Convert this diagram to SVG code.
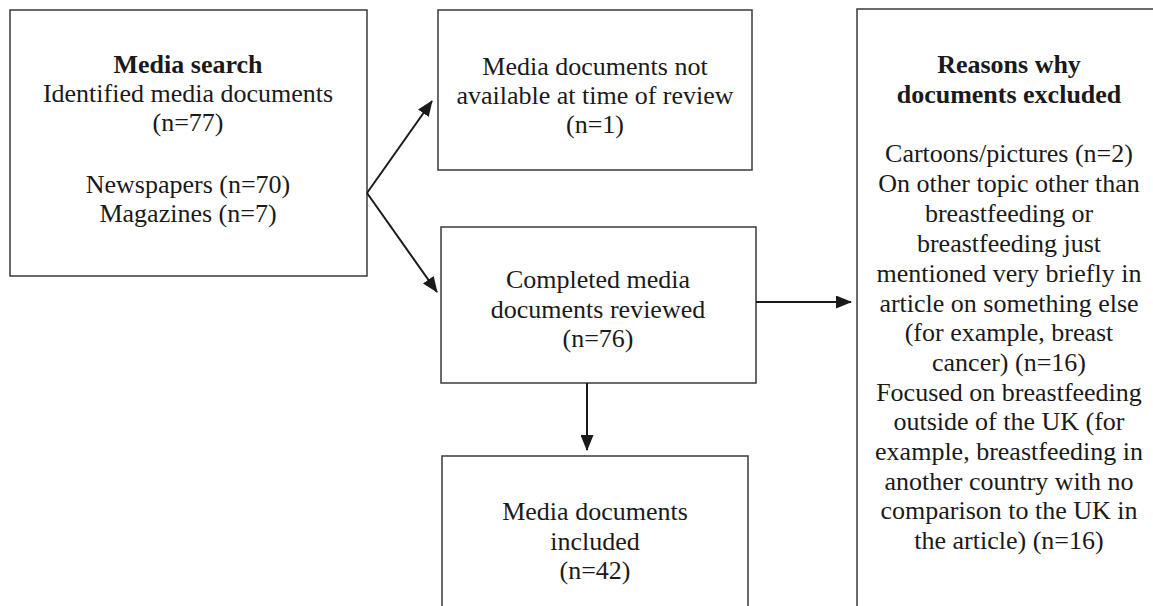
<svg xmlns="http://www.w3.org/2000/svg" width="1153" height="606" viewBox="0 0 1153 606">
<style>
.box{fill:#fff;stroke:#3a3a3a;stroke-width:1.5}
text{font-family:'Liberation Serif','Times New Roman',serif;font-size:26px;fill:#1a1a1a;text-anchor:middle}
.b{font-weight:bold}
.c{fill:none;stroke:#1a1a1a;stroke-width:2}
</style>
<defs>
<marker id="ah" markerWidth="16" markerHeight="13" refX="15" refY="6.5" orient="auto" markerUnits="userSpaceOnUse" viewBox="0 0 16 13">
<path d="M0,0 L16,6.5 L0,13 Z" fill="#1a1a1a"/>
</marker>
</defs>
<rect width="1153" height="606" fill="#fff"/>
<g id="search">
<rect class="box" x="10" y="10" width="357" height="266"/>
<text x="188" y="73" class="b">Media search</text>
<text x="188" y="102">Identified media documents</text>
<text x="188" y="131">(n=77)</text>
<text x="188" y="193">Newspapers (n=70)</text>
<text x="188" y="222">Magazines (n=7)</text>
</g>
<g id="notavailable">
<rect class="box" x="438" y="10" width="314" height="160"/>
<text x="595" y="75">Media documents not</text>
<text x="595" y="104">available at time of review</text>
<text x="595" y="133">(n=1)</text>
</g>
<g id="reviewed">
<rect class="box" x="441" y="227" width="315" height="156"/>
<text x="598" y="288">Completed media</text>
<text x="598" y="318">documents reviewed</text>
<text x="598" y="347">(n=76)</text>
</g>
<g id="included">
<rect class="box" x="442" y="456" width="306" height="160"/>
<text x="595" y="520">Media documents</text>
<text x="595" y="550">included</text>
<text x="595" y="579">(n=42)</text>
</g>
<g id="reasons">
<rect class="box" x="857" y="9" width="306" height="610"/>
<text x="1009" y="73" class="b">Reasons why</text>
<text x="1009" y="103" class="b">documents excluded</text>
<text x="1009" y="162">Cartoons/pictures (n=2)</text>
<text x="1009" y="192">On other topic other than</text>
<text x="1009" y="222">breastfeeding or</text>
<text x="1009" y="252">breastfeeding just</text>
<text x="1009" y="282">mentioned very briefly in</text>
<text x="1009" y="312">article on something else</text>
<text x="1009" y="341">(for example, breast</text>
<text x="1009" y="371">cancer) (n=16)</text>
<text x="1009" y="401">Focused on breastfeeding</text>
<text x="1009" y="430">outside of the UK (for</text>
<text x="1009" y="460">example, breastfeeding in</text>
<text x="1009" y="490">another country with no</text>
<text x="1009" y="519">comparison to the UK in</text>
<text x="1009" y="549">the article) (n=16)</text>
</g>
<g id="connectors">
<line class="c" x1="367" y1="193" x2="432" y2="101" marker-end="url(#ah)"/>
<line class="c" x1="367" y1="193" x2="437" y2="292" marker-end="url(#ah)"/>
<line class="c" x1="756" y1="302" x2="851" y2="302" marker-end="url(#ah)"/>
<line class="c" x1="587" y1="383" x2="587" y2="450" marker-end="url(#ah)"/>
</g>
</svg>
